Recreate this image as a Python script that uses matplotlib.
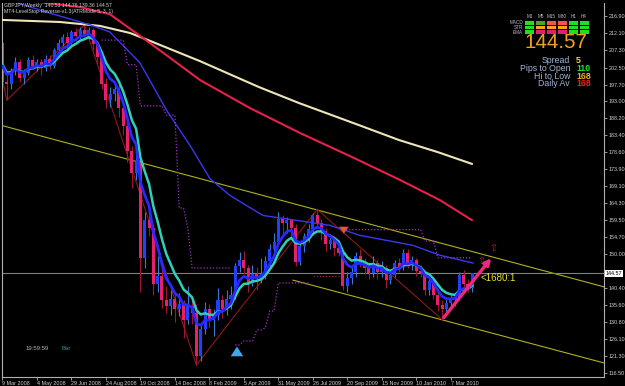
import matplotlib
matplotlib.use("Agg")
import matplotlib.pyplot as plt
import numpy as np
import pandas as pd
from matplotlib.patches import Rectangle, FancyArrowPatch

W, H = 625, 386

# weekly GBPJPY bars, bar 0 = week of 9 Mar 2008
opens = [209.4, 198.5, 198.0, 201.5, 204.0, 199.5, 201.0, 204.5, 203.0, 204.0,
         202.5, 205.0, 203.0, 207.5, 209.5, 211.0, 209.5, 212.5, 211.5, 213.0,
         212.0, 213.0, 209.0, 205.5, 198.0, 193.5, 195.0, 196.5, 191.0, 186.0,
         179.0, 172.8, 176.5, 149.0, 159.5, 157.5, 141.5, 144.0, 137.0, 135.5,
         137.5, 134.5, 136.0, 131.5, 135.5, 133.5, 121.5, 129.0, 134.5, 131.5,
         133.0, 137.0, 134.5, 137.5, 138.5, 146.8, 148.5, 146.0, 142.0, 144.5,
         143.0, 144.5, 148.0, 151.5, 153.5, 160.0, 158.8, 159.5, 157.5, 147.8,
         152.3, 155.0, 157.0, 161.0, 158.8, 156.5, 152.8, 154.0, 151.8, 150.4,
         141.0, 143.3, 144.9, 149.4, 147.5, 146.2, 144.8, 147.6, 145.0, 146.0,
         142.6, 144.2, 147.5, 146.5, 150.3, 147.0, 148.4, 145.3, 144.7, 139.8,
         142.4, 138.6, 135.8, 134.7, 136.2, 137.4, 137.8, 144.1, 141.6, 140.53]
highs = [210.5, 201.5, 202.5, 205.5, 204.8, 202.0, 205.5, 206.0, 205.0, 205.0,
         206.0, 206.0, 208.0, 210.5, 212.0, 212.5, 213.0, 213.5, 214.0, 214.5,
         214.0, 213.5, 210.0, 206.0, 199.5, 197.0, 198.5, 197.5, 193.0, 187.5,
         180.5, 178.5, 177.0, 162.0, 163.0, 158.5, 149.5, 146.5, 141.0, 140.0,
         139.0, 139.0, 137.0, 141.0, 137.0, 136.0, 130.5, 136.5, 136.0, 134.5,
         140.5, 138.5, 140.0, 141.0, 147.5, 150.5, 151.0, 147.0, 147.0, 146.5,
         149.0, 149.5, 153.0, 156.0, 162.0, 161.0, 160.5, 160.0, 158.5, 153.5,
         156.0, 158.5, 161.5, 162.6, 160.0, 157.5, 155.5, 155.0, 153.0, 151.0,
         145.0, 146.5, 150.5, 151.5, 149.0, 147.5, 149.5, 148.5, 148.0, 147.0,
         145.5, 148.5, 149.0, 151.5, 151.5, 149.5, 149.0, 147.0, 145.5, 143.5,
         143.0, 140.0, 137.0, 137.5, 138.5, 139.0, 145.0, 145.5, 143.0, 144.76]
lows = [196.5, 193.3, 196.5, 200.5, 198.5, 197.8, 200.5, 202.0, 201.5, 200.5,
        201.5, 202.0, 202.5, 206.5, 208.5, 208.0, 209.0, 210.0, 210.5, 211.0,
        210.5, 207.5, 203.5, 196.5, 191.0, 191.5, 193.0, 188.5, 183.5, 176.0,
        168.5, 171.0, 139.5, 146.0, 155.0, 138.5, 139.5, 135.0, 133.5, 133.0,
        131.0, 132.5, 126.5, 130.5, 130.5, 118.8, 120.0, 127.5, 129.5, 127.0,
        131.5, 132.0, 133.0, 134.5, 137.5, 145.0, 144.5, 139.5, 141.0, 140.0,
        142.0, 143.0, 146.5, 150.5, 152.5, 155.5, 156.0, 155.0, 146.8, 147.0,
        150.5, 153.5, 155.5, 157.5, 154.0, 151.0, 151.5, 149.5, 149.5, 140.0,
        139.5, 141.5, 143.5, 146.5, 144.5, 143.0, 143.5, 143.0, 143.5, 140.5,
        141.5, 143.5, 145.0, 145.5, 146.0, 145.5, 144.0, 143.5, 138.5, 138.5,
        137.5, 134.0, 131.6, 133.0, 134.5, 135.5, 137.0, 140.5, 139.5, 139.36]
closes = [198.5, 198.0, 201.5, 204.0, 199.5, 201.0, 204.5, 203.0, 204.0, 202.5,
          205.0, 203.0, 207.5, 209.5, 211.0, 209.5, 212.5, 211.5, 213.0, 212.0,
          213.0, 209.0, 205.5, 198.0, 193.5, 195.0, 196.5, 191.0, 186.0, 179.0,
          172.8, 176.5, 149.0, 159.5, 157.5, 141.5, 144.0, 137.0, 135.5, 137.5,
          134.5, 136.0, 131.5, 135.5, 133.5, 121.5, 129.0, 134.5, 131.5, 133.0,
          137.0, 134.5, 137.5, 138.5, 146.8, 148.5, 146.0, 142.0, 144.5, 143.0,
          144.5, 148.0, 151.5, 153.5, 160.0, 158.8, 159.5, 157.5, 147.8, 152.3,
          155.0, 157.0, 161.0, 158.8, 156.5, 152.8, 154.0, 151.8, 150.4, 141.0,
          143.3, 144.9, 149.4, 147.5, 146.2, 144.8, 147.6, 145.0, 146.0, 142.6,
          144.2, 147.5, 146.5, 150.3, 147.0, 148.4, 145.3, 144.7, 139.8, 142.4,
          138.6, 135.8, 134.7, 136.2, 137.4, 137.8, 144.1, 141.6, 140.53, 144.57]

date_ticks = [0, 8, 16, 24, 32, 40, 48, 56, 64, 72, 80, 88, 96, 104]
date_labels = ["9 Mar 2008", "4 May 2008", "29 Jun 2008", "24 Aug 2008",
               "19 Oct 2008", "14 Dec 2008", "8 Feb 2009", "5 Apr 2009",
               "31 May 2009", "26 Jul 2009", "20 Sep 2009", "15 Nov 2009",
               "10 Jan 2010", "7 Mar 2010"]
price_ticks = [216.90, 212.10, 207.30, 202.50, 197.70, 193.00, 188.20, 183.40,
               178.60, 173.90, 169.10, 164.30, 159.50, 154.70, 150.00, 140.40,
               135.60, 130.80, 126.10, 121.30, 116.50]
last_price = 144.57

# slow moving averages (bar index, price)
ma_cream_x = [-0.6, 13.3, 22.6, 29.6, 34.2, 45.8, 59.5, 68.8, 82.7, 92.0, 101.0, 108.9]
ma_cream_y = [215.9, 215.3, 214.2, 212.2, 210.0, 204.3, 197.0, 192.5, 186.3, 182.1, 178.7, 175.4]
ma_red_x = [6.4, 18.0, 24.9, 31.9, 38.9, 45.8, 57.4, 69.0, 80.6, 92.2, 101.5, 108.9]
ma_red_y = [221.2, 219.5, 217.5, 211.4, 205.2, 199.0, 191.1, 184.1, 177.6, 170.9, 165.2, 159.6]
ma_blue_x = [-0.1, 11.0, 20.3, 24.9, 31.9, 38.2, 43.5, 48.1, 52.8, 60.4, 68.3, 76.0, 82.9, 95.2, 101.5, 109.2]
ma_blue_y = [222.0, 217.8, 214.5, 212.5, 203.8, 190.2, 180.6, 171.3, 166.5, 160.9, 159.5, 158.1, 155.3, 152.5, 149.7, 147.5]

# ATR level stop: (first bar, levels, bars per level, colour)
stop_segments = [
    (23, [210.2, 203.3, 191.7, 189.1, 163.0, 157.3, 146.1], [6, 3, 6, 3, 2, 1, 10], "#A030C8"),
    (54, [124.5, 125.6, 128.7, 129.3, 134.0, 141.9], [2, 3, 2, 1, 2, 8], "#A030C8"),
    (72, [143.8], [7], "#A02838"),
    (79, [156.9, 153.7, 149.0], [19, 3, 9], "#A030C8"),
]

zigzag_x = [-0.5, 1, 19, 45, 73, 102]
zigzag_y = [202.0, 193.3, 214.5, 118.8, 162.6, 131.6]

channel_up_x, channel_up_y = [-0.5, 139.6], [186.3, 140.8]
channel_dn_x, channel_dn_y = [67.4, 139.6], [142.7, 119.4]

# dashboard in the top right corner
tf_names = ["M1", "M5", "M15", "M30", "H1", "H4"]
row_names = ["MACD", "STR", "EMA"]
cell_colors = [
    ["#22DD22", "#44AA22", "#FF5050", "#FF5050", "#22DD22", "#22DD22"],
    ["#22DD22", "#FFA020", "#FFA020", "#FFA020", "#22DD22", "#22DD22"],
    ["#22DD22", "#E0206A", "#E0206A", "#E0206A", "#22DD22", "#22DD22"],
]
info_labels = ["Spread", "Pips to Open", "Hi to Low", "Daily Av"]
info_values = ["5", "110", "168", "168"]
info_colors = ["#E8E020", "#20E020", "#F0B020", "#F02020"]

SMALL = "Liberation Sans"


def fx(x):
    return x / W


def fy(y):
    return 1 - y / H


def main():
    o = np.array(opens)
    h = np.array(highs)
    l = np.array(lows)
    c = np.array(closes)
    idx = np.arange(len(c))

    fig = plt.figure(figsize=(W / 100, H / 100), dpi=100, facecolor="black")
    ax = fig.add_axes([fx(2), fy(377), (604 - 2) / W, (377 - 3) / H])
    ax.set_facecolor("black")
    ax.set_xlim(-0.116, 139.56)
    ax.set_ylim(115.46, 220.64)

    # channel + last price line
    ax.plot(channel_up_x, channel_up_y, color="#B0B020", lw=0.8, zorder=1)
    ax.plot(channel_dn_x, channel_dn_y, color="#B0B020", lw=0.8, zorder=1)
    ax.axhline(last_price, color="#808080", lw=0.8, zorder=1)

    # zigzag
    ax.plot(zigzag_x, zigzag_y, color="#8B1A1A", lw=0.8, zorder=1.5)

    # candles
    up = c >= o
    wick_col = np.where(up, "#3A7AD0", "#A01830")
    ax.vlines(idx, l, h, colors=wick_col, lw=0.8, zorder=2)
    body = np.maximum(np.abs(c - o), 0.3)
    ax.bar(idx, body, bottom=np.minimum(o, c), width=0.7,
           color=np.where(up, "#2040FF", "#E8206A"), linewidth=0, zorder=2.5)

    # slow averages
    ax.plot(ma_cream_x, ma_cream_y, color="#EEE6B8", lw=1.5, zorder=3)
    ax.plot(ma_red_x, ma_red_y, color="#E8204A", lw=1.5, zorder=3)
    ax.plot(ma_blue_x, ma_blue_y, color="#3838F0", lw=1.0, zorder=3)

    # fast averages from the closes, seeded with the first open
    cs = pd.Series(np.r_[o[0], c])
    ax.plot(idx, cs.ewm(span=8).mean().values[1:], color="#30D0B8", lw=1.8, zorder=3.2)
    ax.plot(idx, cs.ewm(span=5).mean().values[1:], color="#2828FF", lw=2.0, zorder=3.3)

    # level stop
    for start, levels, counts, col in stop_segments:
        xs = np.arange(start, start + sum(counts))
        ys = np.repeat(levels, counts)
        ax.plot(xs, ys, color=col, lw=0.9, ls=(0, (1, 1.5)), zorder=3.5)

    # signal arrows
    ax.annotate("", xy=(54.4, 124.8), xytext=(54.4, 120.8),
                arrowprops=dict(arrowstyle="simple,head_width=0.9,head_length=0.7,tail_width=0.35",
                                color="#40A8E8", lw=0), zorder=4)
    ax.annotate("", xy=(79.2, 155.0), xytext=(79.2, 157.6),
                arrowprops=dict(arrowstyle="simple,head_width=0.7,head_length=0.5,tail_width=0.3",
                                color="#E05A30", lw=0), zorder=4)
    for ax_i, ax_p in [(111.0, 148.1), (114.0, 151.8)]:
        ax.text(ax_i, ax_p, "\u21e7", color="#B02030", fontsize=7, ha="center",
                va="center", zorder=4)

    arrow = FancyArrowPatch((102, 131.6), (113.8, 149.5), arrowstyle="-|>",
                            mutation_scale=9, color="#F0287A", lw=2.4, zorder=5)
    ax.add_patch(arrow)
    ax.text(110.8, 143.2, "<1680:1", color="#E8E030", fontsize=7,
            family=SMALL, ha="left", va="center", zorder=5)

    # axes look
    for side in ["left", "bottom", "right"]:
        ax.spines[side].set_color("#B0B0B0")
        ax.spines[side].set_linewidth(0.8)
    ax.spines["top"].set_visible(False)
    ax.set_xticks(date_ticks)
    ax.set_xticklabels(date_labels, ha="left", family=SMALL)
    ax.yaxis.tick_right()
    ax.set_yticks(price_ticks)
    ax.set_yticklabels([f"{p:.2f}" for p in price_ticks], family=SMALL)
    ax.tick_params(axis="both", colors="#B0B0B0", labelcolor="#D0D0D0",
                   labelsize=3.9, length=2, width=0.6, pad=1.2)
    ax.text(1.003, last_price, f"{last_price:.2f}", transform=ax.get_yaxis_transform(),
            fontsize=3.9, family=SMALL, color="black", ha="left", va="center",
            bbox=dict(boxstyle="square,pad=0.2", fc="white", ec="none"), clip_on=False)

    # header text
    fig.text(fx(4), fy(5.5), "GBPJPY,Weekly  140.53 144.76 139.36 144.57",
             color="#D0D0D0", fontsize=3.7, family=SMALL, va="center")
    fig.text(fx(4), fy(11.5), "MT4-LevelStop-Reverse-v1.3(ATRMode 5, 3, 1)",
             color="#D0D0D0", fontsize=3.7, family=SMALL, va="center")

    # dashboard
    col_x = [525 + k * 10.9 for k in range(6)]
    row_y = [23, 27.5, 32]
    for k, name in enumerate(tf_names):
        fig.text(fx(col_x[k] + 4.5), fy(17), name, color="#C0C0C0",
                 fontsize=3.3, family=SMALL, ha="center", va="center")
    for r, name in enumerate(row_names):
        fig.text(fx(523), fy(row_y[r]), name, color="#C0C0C0", fontsize=3.3,
                 family=SMALL, ha="right", va="center")
        for k in range(6):
            fig.add_artist(Rectangle((fx(col_x[k]), fy(row_y[r] + 1.5)), 9 / W, 3 / H,
                                     transform=fig.transFigure, color=cell_colors[r][k], lw=0))
    fig.text(fx(556), fy(43), f"{last_price:.2f}", color="#F0A020", fontsize=14.8,
             family=SMALL, ha="center", va="center")
    for r, (lab, val, col) in enumerate(zip(info_labels, info_values, info_colors)):
        yy = 60.5 + r * 7.8
        fig.text(fx(570), fy(yy), lab, color="#A0B4D8", fontsize=6.3,
                 family=SMALL, ha="right", va="center")
        fig.text(fx(576), fy(yy), val, color=col, fontsize=6.3,
                 family=SMALL, ha="left", va="center", weight="bold")

    fig.text(fx(26), fy(348), "19:59:59", color="#B0B0B0", fontsize=4.3, family=SMALL, va="center")
    fig.text(fx(61), fy(348), "Bar", color="#10A0A0", fontsize=4.3, family=SMALL, va="center")

    fig.savefig("out.png", dpi=100, facecolor="black")


if __name__ == "__main__":
    main()
